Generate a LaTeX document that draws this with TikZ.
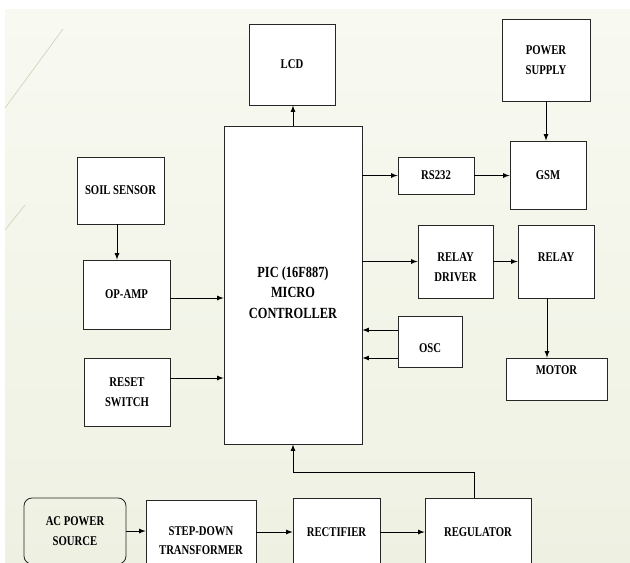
\documentclass[tikz,border=0pt]{standalone}
\usepackage{fontspec}
\setmainfont{Liberation Serif}
\newfontfamily\blockfont[FakeStretch=0.8]{Liberation Serif}
\usetikzlibrary{calc}

\definecolor{bgtop}{HTML}{F8F9F1}
\definecolor{bgbot}{HTML}{EEF1E2}
\definecolor{deco}{HTML}{D6D2BE}

\begin{document}
\begin{tikzpicture}[x=0.025cm,y=-0.025cm,>=latex,line width=0.6pt,
  every node/.style={font=\blockfont\bfseries\fontsize{9.5}{14}\selectfont,align=center},
  box/.style={draw=black!85,rectangle,fill=white}]
\useasboundingbox (0,0) rectangle (630,562);
\clip (0,0) rectangle (630,562);
\fill[white] (0,0) rectangle (630,562);
\shade[top color=bgtop,bottom color=bgbot] (5,9) rectangle (630,562);
\draw[deco,line width=0.5pt] (63,29) -- (5,108);
\draw[deco,line width=0.5pt] (25,205) -- (5,230);

\node[box,minimum width=3.45cm,minimum height=7.95cm] (PIC) at (293,285) {};
\node[font=\blockfont\bfseries\fontsize{11}{14.5}\selectfont] (PICT) at (293,292.5) {PIC (16F887)\\MICRO\\CONTROLLER};
\node[box,minimum width=2.15cm,minimum height=2.025cm] (LCD) at (292,64.5) {LCD};
\draw[->] (PIC.north) -- (PIC.north |- LCD.south);

% inputs on the left
\node[box,minimum width=2.175cm,minimum height=1.675cm] (SOIL) at (120.5,190.5) {SOIL SENSOR};
\node[box,minimum width=2.175cm,minimum height=1.725cm] (AMP) at (126.5,294.5) {OP-AMP};
\node[box,minimum width=2.15cm,minimum height=1.7cm] (RST) at (127,392) {RESET\\SWITCH};
\draw[->] (SOIL.south -| 117,0) -- (AMP.north -| 117,0);
\draw[->] (AMP.east |- 0,298) -- (PIC.west |- 0,298);
\draw[->] (RST.east |- 0,378) -- (PIC.west |- 0,378);

% outputs on the right
\node[box,minimum width=2.2cm,minimum height=2.05cm] (PWS) at (546,60) {POWER\\SUPPLY};
\node[box,minimum width=1.9cm,minimum height=0.925cm] (RS) at (436,175.5) {RS232};
\node[box,minimum width=1.9cm,minimum height=1.7cm] (GSM) at (548,175) {GSM};
\draw[->] (PWS.south) -- (PWS.south |- GSM.north);
\draw[->] (PIC.east |- RS.west) -- (RS.west);
\draw[->] (RS.east) -- (GSM.west |- RS.east);

\node[box,minimum width=1.875cm,minimum height=1.825cm] (RDR) at (455.5,261.5) {};
\node (RDRT) at (455.5,267) {RELAY\\DRIVER};
\node[box,minimum width=1.9cm,minimum height=1.825cm] (RLY) at (556,261.5) {};
\node (RLYT) at (556,257) {RELAY};
\node[box,minimum width=2.525cm,minimum height=1.05cm] (MOT) at (556.5,379) {};
\node (MOTT) at (556.5,370) {MOTOR};
\draw[->] (PIC.east |- RDR.west) -- (RDR.west);
\draw[->] (RDR.east) -- (RLY.west);
\draw[->] (RLY.south -| 547,0) -- (MOT.north -| 547,0);

\node[box,minimum width=1.6cm,minimum height=1.275cm] (OSC) at (430,341.5) {};
\node (OSCT) at (430,348) {OSC};
\foreach\y in {330,358} {
  \draw[->] (OSC.west |- 0,\y) -- (PIC.east |- 0,\y);
}

% power chain
\node[draw=black!85,rounded corners=0.2cm,minimum width=2.55cm,minimum height=1.65cm] (ACS) at (75,531) {AC POWER\\SOURCE};
\node[box,minimum width=2.75cm,minimum height=2.025cm] (SDT) at (201,540.5) {STEP-DOWN\\TRANSFORMER};
\node[box,minimum width=2.175cm,minimum height=1.7cm] (RCT) at (336.5,532) {RECTIFIER};
\node[box,minimum width=2.65cm,minimum height=1.7cm] (REG) at (478,532) {REGULATOR};
\draw[->] (ACS.east) -- (SDT.west |- ACS.east);
\draw[->] (SDT.east |- RCT.west) -- (RCT.west);
\draw[->] (RCT.east) -- (REG.west);
\draw[->] (REG.north -| 474,0) |- (PIC.south |- 0,472) -- (PIC.south);
\end{tikzpicture}
\end{document}
